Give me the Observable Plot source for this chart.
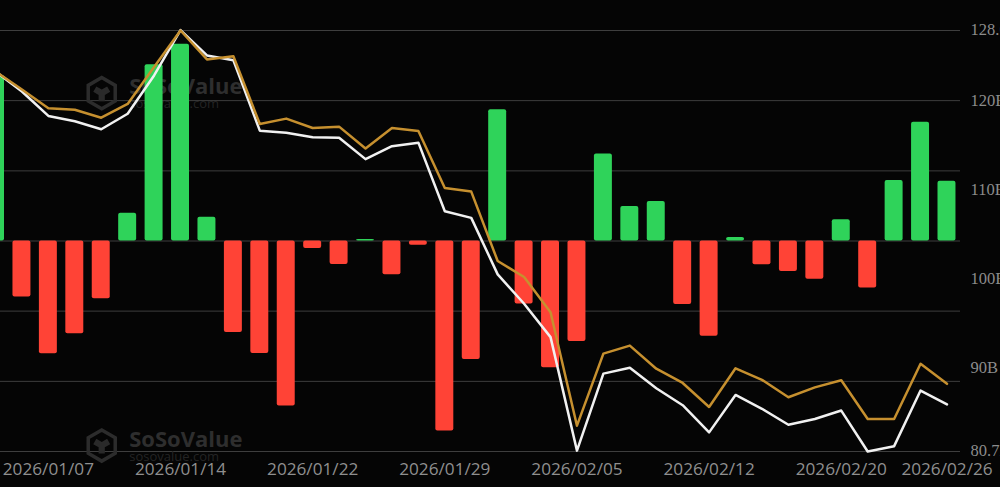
<!DOCTYPE html>
<html><head><meta charset="utf-8">
<script src="https://cdn.jsdelivr.net/npm/d3@7"></script>
<script src="https://cdn.jsdelivr.net/npm/@observablehq/plot@0.6"></script>
<style>html,body{margin:0;padding:0;background:#050505;overflow:hidden}svg{display:block}</style>
</head><body><div id="chart"></div>
<script>
const dates = ["2026/01/05","2026/01/06","2026/01/07","2026/01/08","2026/01/09","2026/01/12","2026/01/13","2026/01/14","2026/01/15","2026/01/16","2026/01/20","2026/01/21","2026/01/22","2026/01/23","2026/01/26","2026/01/27","2026/01/28","2026/01/29","2026/01/30","2026/02/02","2026/02/03","2026/02/04","2026/02/05","2026/02/06","2026/02/09","2026/02/10","2026/02/11","2026/02/12","2026/02/13","2026/02/17","2026/02/18","2026/02/19","2026/02/20","2026/02/23","2026/02/24","2026/02/25","2026/02/26"];
const netFlow = [709,-240,-484,-398,-248,119,756,844,102,-392,-482,-708,-32,-101,6,-145,-18,-815,-508,563,-270,-543,-431,373,148,169,-272,-408,15,-102,-131,-164,91,-202,259,509,256];
const whiteLine = [123.4,121.15,118.4,117.8,116.9,118.65,122.95,128.05,125.2,124.65,116.75,116.5,116.0,115.95,113.55,115.0,115.4,107.7,106.95,100.6,97.3,93.55,80.8,89.45,90.1,87.8,85.9,82.85,87.05,85.5,83.7,84.35,85.3,80.7,81.3,87.55,86.0];
const goldLine = [123.4,121.37,119.27,119.1,118.2,119.75,123.9,128.0,124.75,125.1,117.5,118.1,117.05,117.2,114.75,117.05,116.7,110.3,109.9,102.1,100.3,96.35,83.6,91.7,92.6,90.0,88.4,85.7,90.05,88.75,86.8,87.9,88.7,84.35,84.35,90.55,88.3];
const gridValues = [128,120.12,112.23,104.35,96.47,88.58,80.7];
const yTicks = [128,120,110,100,90,80.7];
const yLabels = ["128.0B","120B","110B","100B","90B","80.7B"];
const xTicks = ["2026/01/07","2026/01/14","2026/01/22","2026/01/29","2026/02/05","2026/02/12","2026/02/20","2026/02/26"];
const watermarkDate = "2026/01/09";
const watermarkLevels = [120.96,81.37];
const flowZero = 104.35;
const flowPerBillion = 0.0262; // flow axis ($M) expressed in the right axis' unit

const rows = dates.map((d,i)=>({d,flow:netFlow[i],white:whiteLine[i],gold:goldLine[i]}));
const wm = watermarkLevels.map(v=>({d:watermarkDate,v}));
const chart = Plot.plot({
  width:1000,height:487,marginTop:30,marginBottom:36,marginLeft:0,marginRight:40,
  style:{background:"#050505",overflow:"hidden"},
  x:{type:"band",domain:dates,range:[-18.2,959.7],paddingInner:0.32,paddingOuter:0.16,round:false,axis:null},
  y:{domain:[80.7,128],axis:null},
  marks:[
    Plot.ruleY(gridValues,{stroke:"#3e3e3e",strokeWidth:1}),
    Plot.dot(wm,{x:"d",y:"v",symbol:"hexagon",r:13.5,fill:"none",stroke:"#2c2c2c",strokeWidth:3.5,dx:0.5}),
    Plot.dot(wm,{x:"d",y:"v",symbol:"wye",r:6.5,fill:"#2a2a2a",stroke:"none",dx:0.5}),
    Plot.text(wm,{x:"d",y:"v",text:()=>"SoSoValue",fill:"#2e2e2e",fontSize:22,fontWeight:"bold",fontFamily:"Open Sans",textAnchor:"start",dx:28,dy:-6}),
    Plot.text(wm,{x:"d",y:"v",text:()=>"sosovalue.com",fill:"#242424",fontSize:13,fontFamily:"Open Sans",textAnchor:"start",dx:28,dy:11}),
    Plot.barY(rows,{x:"d",y1:()=>flowZero,y2:d=>flowZero+d.flow*flowPerBillion,fill:d=>d.flow>=0?"#2fd35a":"#ff4336",rx:2}),
    Plot.line(rows,{x:"d",y:"white",stroke:"#f1f1f1",strokeWidth:2.5}),
    Plot.line(rows,{x:"d",y:"gold",stroke:"#c6902f",strokeWidth:2.5}),
    Plot.axisX({ticks:xTicks,anchor:"bottom",tickSize:0,tickPadding:11,tickFormat:d=>d,fontSize:17.2,fontFamily:"Open Sans",color:"#8f8f8f",label:null}),
    Plot.axisY({ticks:yTicks,anchor:"right",tickSize:0,tickPadding:10,tickFormat:(d,i)=>yLabels[i],fontSize:16.5,fontFamily:"Liberation Serif",color:"#8c8c8c",label:null,dy:-1})
  ]
});
document.getElementById("chart").append(chart);
</script></body></html>
